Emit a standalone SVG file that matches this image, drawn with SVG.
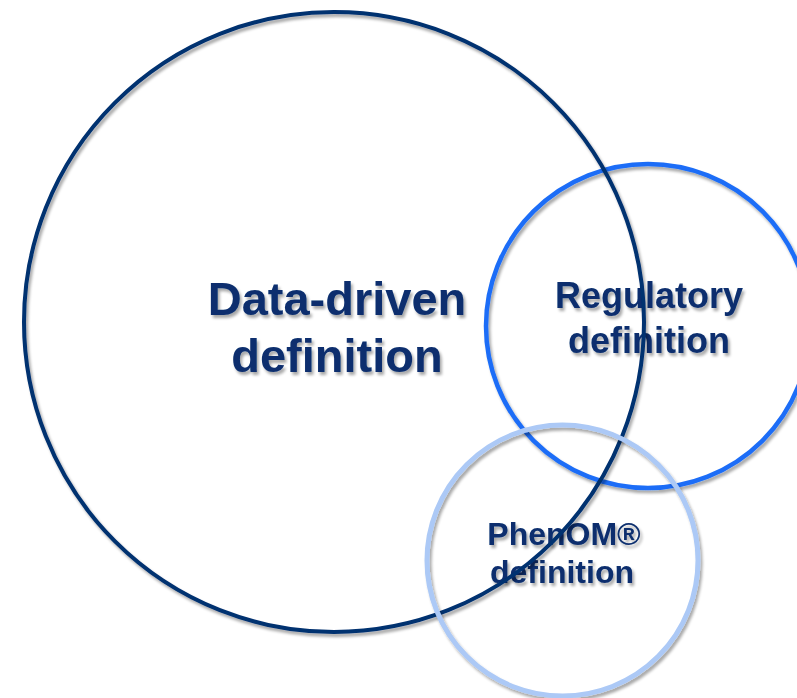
<svg xmlns="http://www.w3.org/2000/svg" width="797" height="698" viewBox="0 0 797 698">
  <defs>
    <filter id="shadow" x="-20%" y="-20%" width="140%" height="140%">
      <feGaussianBlur in="SourceAlpha" stdDeviation="1.6"/>
      <feOffset dx="2" dy="3" result="b"/>
      <feComponentTransfer><feFuncA type="linear" slope="0.35"/></feComponentTransfer>
      <feMerge><feMergeNode/><feMergeNode in="SourceGraphic"/></feMerge>
    </filter>
  </defs>
  <style>
    .ring { fill: none; filter: url(#shadow); }
    .lbl { font-family: "Liberation Sans", Arial, sans-serif; font-weight: bold; fill: #0a2f6e; text-anchor: middle; filter: url(#shadow); }
  </style>
  <rect width="797" height="698" fill="#ffffff"/>

  <!-- Regulatory definition -->
  <g id="regulatory">
    <circle class="ring" cx="648" cy="326" r="162" stroke="#1c6df7" stroke-width="4.5"/>
    <text class="lbl" x="649" y="308" font-size="36">Regulatory</text>
    <text class="lbl" x="649" y="353" font-size="36">definition</text>
  </g>

  <!-- PhenOM definition label -->
  <g id="phenom-label">
    <text class="lbl" x="564" y="545" font-size="32">PhenOM®</text>
    <text class="lbl" x="562" y="583" font-size="32">definition</text>
  </g>

  <!-- Data-driven definition -->
  <g id="data-driven">
    <text class="lbl" x="337" y="315" font-size="47">Data-driven</text>
    <text class="lbl" x="337" y="372" font-size="47">definition</text>
    <circle class="ring" cx="334" cy="322" r="310" stroke="#06306f" stroke-width="4"/>
  </g>

  <!-- PhenOM definition ring -->
  <g id="phenom">
    <circle class="ring" cx="562.5" cy="560.5" r="135.5" stroke="#acc9f6" stroke-width="5"/>
  </g>
</svg>
